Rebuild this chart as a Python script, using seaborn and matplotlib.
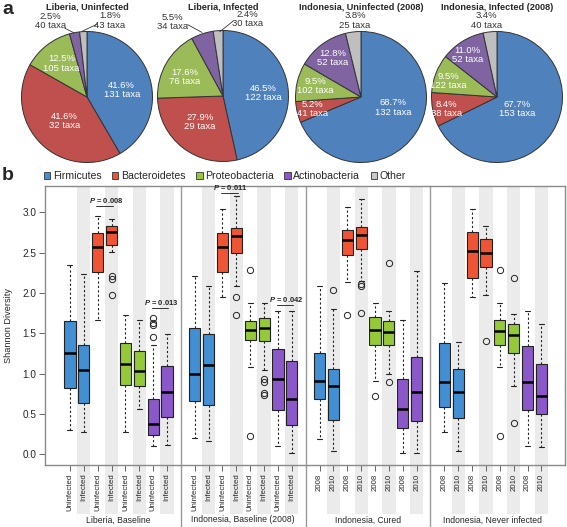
import numpy as np
import pandas as pd
import seaborn as sns
import matplotlib.pyplot as plt
from matplotlib.patches import Patch, Rectangle
from matplotlib.transforms import blended_transform_factory

# ---- panel a: pie data ----
phyla = ['Firmicutes', 'Bacteroidetes', 'Proteobacteria', 'Actinobacteria', 'Other']
pie_titles = ['Liberia, Uninfected', 'Liberia, Infected',
              'Indonesia, Uninfected (2008)', 'Indonesia, Infected (2008)']
liberia_uninf_pct = [41.6, 41.6, 12.5, 2.5, 1.8]
liberia_inf_pct = [46.5, 27.9, 17.6, 5.5, 2.4]
indo_uninf_pct = [68.7, 5.2, 9.5, 12.8, 3.8]
indo_inf_pct = [67.7, 8.4, 9.5, 11.0, 3.4]
liberia_uninf_taxa = [131, 32, 105, 40, 43]
liberia_inf_taxa = [122, 29, 76, 34, 30]
indo_uninf_taxa = [132, 41, 102, 52, 25]
indo_inf_taxa = [153, 38, 122, 52, 40]

# ---- panel b: box stats (whislo, q1, med, q3, whishi), slots F-U, F-I, B-U, B-I, P-U, P-I, A-U, A-I ----
groups = ['Liberia, Baseline', 'Indonesia, Baseline (2008)', 'Indonesia, Cured', 'Indonesia, Never infected']
group_ticks = [['Uninfected', 'Infected'], ['Uninfected', 'Infected'], ['2008', '2010'], ['2008', '2010']]
liberia_box = [(0.30, 0.82, 1.26, 1.65, 2.34), (0.27, 0.64, 1.04, 1.35, 2.24),
               (1.67, 2.26, 2.57, 2.74, 2.95), (2.51, 2.59, 2.76, 2.83, 2.91),
               (0.27, 0.855, 1.115, 1.375, 1.73), (0.56, 0.846, 1.03, 1.28, 1.66),
               (0.10, 0.24, 0.375, 0.69, 1.36), (0.12, 0.46, 0.776, 1.095, 1.495)]
liberia_fliers = [[], [], [], [2.21, 2.17, 1.97], [], [], [1.685, 1.627, 1.60, 1.45], []]
indo_base_box = [(0.20, 0.66, 0.995, 1.57, 2.21), (0.17, 0.61, 1.11, 1.49, 2.09),
                 (1.945, 2.255, 2.57, 2.74, 3.04), (2.09, 2.50, 2.70, 2.81, 3.20),
                 (1.08, 1.415, 1.545, 1.65, 1.87), (1.045, 1.41, 1.57, 1.69, 1.875),
                 (0.10, 0.545, 0.93, 1.31, 1.78), (0.01, 0.36, 0.685, 1.155, 1.78)]
indo_base_fliers = [[], [], [], [1.95, 1.73], [2.28, 0.23], [0.93, 0.89, 0.76, 0.73], [], []]
cured_box = [(0.19, 0.68, 0.91, 1.26, 2.09), (0.04, 0.43, 0.84, 1.06, 1.80),
             (2.13, 2.47, 2.66, 2.78, 3.07), (2.15, 2.55, 2.72, 2.82, 3.17),
             (0.91, 1.355, 1.54, 1.70, 1.875), (0.99, 1.36, 1.52, 1.655, 1.775),
             (0.01, 0.32, 0.565, 0.93, 1.67), (0.01, 0.415, 0.775, 1.21, 2.275)]
cured_fliers = [[], [2.04], [1.73], [2.11, 2.09, 1.755], [0.72], [2.37, 0.895], [], []]
never_box = [(0.28, 0.58, 0.89, 1.38, 2.12), (0.04, 0.45, 0.77, 1.06, 1.39),
             (1.945, 2.18, 2.52, 2.75, 3.04), (1.975, 2.32, 2.49, 2.67, 2.83),
             (1.08, 1.35, 1.53, 1.66, 1.87), (0.84, 1.255, 1.475, 1.61, 1.74),
             (0.10, 0.545, 0.90, 1.34, 1.78), (0.09, 0.50, 0.72, 1.12, 1.62)]
never_fliers = [[], [], [], [1.41], [2.28, 0.23], [2.18, 0.385], [], []]

# p-values: (group, left slot, right slot, text)
pvals = [(0, 2, 3, '0.008'), (0, 6, 7, '0.013'), (1, 2, 3, '0.011'), (1, 6, 7, '0.042')]
pval_heights = [3.08, 1.81, 3.24, 1.85]

# ---- styles ----
sns.set_theme(style='ticks')
plt.rcParams['font.family'] = ['Liberation Sans', 'DejaVu Sans']
plt.rcParams['mathtext.fontset'] = 'custom'
plt.rcParams['mathtext.it'] = 'Liberation Sans:italic:bold'

pie_colors = ['#4F81BD', '#C0504D', '#9BBB59', '#8064A2', '#BFBFBF']
box_colors = ['#4290D3', '#EF5535', '#96C93A', '#8A58C8']
legend_colors = box_colors + ['#C8C8C8']

W, H = 567, 527
fig = plt.figure(figsize=(W / 100, H / 100), dpi=100)

# pie layout (pixels) and label offsets in radius units
pie_centers = [(87, 97), (223, 96), (361, 97), (497, 97)]
R = 65.5
label_pos = [
    [(0.53, 0.11), (-0.34, -0.37), (-0.39, 0.51), (-0.56, 1.16), (0.35, 1.17)],
    [(0.62, 0.05), (-0.35, -0.40), (-0.58, 0.29), (-0.77, 1.13), (0.37, 1.18)],
    [(0.49, -0.16), (-0.74, -0.18), (-0.70, 0.17), (-0.43, 0.60), (-0.09, 1.17)],
    [(0.31, -0.18), (-0.77, -0.18), (-0.75, 0.24), (-0.45, 0.64), (-0.16, 1.17)],
]
leaders = [
    [((-0.34, 1.05), (-0.20, 0.98)), ((-0.08, 1.00), (0.15, 1.11))],
    [((-0.54, 1.09), (-0.32, 0.97)), ((-0.05, 0.98), (0.15, 1.14))],
    [], [],
]
pcts = [liberia_uninf_pct, liberia_inf_pct, indo_uninf_pct, indo_inf_pct]
taxa = [liberia_uninf_taxa, liberia_inf_taxa, indo_uninf_taxa, indo_inf_taxa]

for k, (cx, cy) in enumerate(pie_centers):
    axp = fig.add_axes([(cx - R) / W, (H - cy - R) / H, 2 * R / W, 2 * R / H])
    axp.pie(pcts[k], colors=pie_colors, startangle=90, counterclock=False, radius=1,
            wedgeprops=dict(edgecolor='#333333', linewidth=0.7))
    axp.set_xlim(-1, 1)
    axp.set_ylim(-1, 1)
    axp.set_axis_off()
    for j, (dx, dy) in enumerate(label_pos[k]):
        outside = dy > 1.0
        axp.text(dx, dy, f'{pcts[k][j]:.1f}%\n{taxa[k][j]} taxa', ha='center', va='center',
                 fontsize=6.8, linespacing=1.05, color='#333333' if outside else 'white')
    for (x1, y1), (x2, y2) in leaders[k]:
        axp.plot([x1, x2], [y1, y2], color='#333333', lw=0.6, clip_on=False)
    fig.text(cx / W, 1 - 7 / H, pie_titles[k], ha='center', va='center',
             fontsize=6.6, fontweight='bold')

fig.text(8 / W, 1 - 10 / H, 'a', ha='center', va='center', fontsize=14, fontweight='bold')
fig.text(8 / W, 1 - 176 / H, 'b', ha='center', va='center', fontsize=14, fontweight='bold')

# ---- panel b ----
ax = fig.add_axes([45 / W, (H - 465) / H, 520 / W, 279 / H])
all_box = [liberia_box, indo_base_box, cured_box, never_box]
all_fliers = [liberia_fliers, indo_base_fliers, cured_fliers, never_fliers]

rows = []
for g in range(4):
    for i in range(8):
        lo, q1, med, q3, hi = all_box[g][i]
        rows.append(dict(group=groups[g], phylum=phyla[i // 2], label=group_ticks[g][i % 2],
                         pos=g * 9 + i, whislo=lo, q1=q1, med=med, q3=q3, whishi=hi,
                         fliers=all_fliers[g][i]))
df = pd.DataFrame(rows)

trans = blended_transform_factory(ax.transData, ax.transAxes)
# shaded stripes behind every second slot
for p in df['pos'][df['pos'] % 9 % 2 == 1]:
    ax.add_patch(Rectangle((p - 0.48, -0.176), 0.96, 1.176, transform=trans,
                           facecolor='#ebebeb', edgecolor='none', zorder=0, clip_on=False))

stats = [dict(whislo=r.whislo, q1=r.q1, med=r.med, q3=r.q3, whishi=r.whishi,
              fliers=np.array(r.fliers)) for r in df.itertuples()]
bp = ax.bxp(stats, positions=df['pos'], widths=0.8, patch_artist=True, manage_ticks=False,
            boxprops=dict(edgecolor='#222222', linewidth=0.8),
            medianprops=dict(color='black', linewidth=1.8),
            whiskerprops=dict(color='#222222', linewidth=0.8, linestyle=(0, (2, 2))),
            capprops=dict(color='#222222', linewidth=0.8), capwidths=0.36,
            flierprops=dict(marker='o', markerfacecolor='none', markeredgecolor='#222222',
                            markersize=4.5, markeredgewidth=0.7))
for box, ph in zip(bp['boxes'], df['phylum']):
    box.set_facecolor(box_colors[phyla.index(ph)])
    box.set_zorder(2)

# group separators
for x in [8, 17, 26]:
    ax.plot([x, x], [1.0, -0.222], transform=trans, color='#9a9a9a', lw=1.0, clip_on=False, zorder=1)
for g in range(4):
    ax.text(g * 9 + 3.5, -0.197, groups[g], transform=trans, ha='center', va='center', fontsize=6.2)

# p-value brackets
for (g, a, b, txt), y in zip(pvals, pval_heights):
    xa, xb = g * 9 + a, g * 9 + b
    ax.plot([xa - 0.1, xb + 0.1], [y, y], color='#333333', lw=0.7)
    ax.text((xa + xb) / 2 + 0.1, y + 0.012, r'$P$' + ' = ' + txt, ha='center', va='bottom',
            fontsize=5.5, fontweight='bold')

ax.set_xlim(-1.8, 35.7)
ax.set_ylim(-0.133, 3.325)
ax.set_xticks(df['pos'])
ax.set_xticklabels(df['label'], rotation=90, fontsize=5.6)
ax.set_yticks(np.arange(0, 3.01, 0.5))
ax.set_yticklabels([f'{v:.1f}' for v in np.arange(0, 3.01, 0.5)], fontsize=7.2)
ax.tick_params(axis='both', direction='out', length=4, width=0.7, color='#666666', pad=2)
ax.set_ylabel('Shannon Diversity', fontsize=6.6)
ax.yaxis.set_label_coords(-0.062, 0.5)
for s in ax.spines.values():
    s.set_color('#8a8a8a')
    s.set_linewidth(1.0)

handles = [Patch(facecolor=c, edgecolor='#333333', linewidth=0.6, label=n)
           for c, n in zip(legend_colors, phyla)]
fig.legend(handles=handles, loc='center left', bbox_to_anchor=(44 / W, 1 - 176 / H), ncol=5,
           frameon=False, fontsize=7.6, handlelength=0.6, handleheight=0.6,
           handletextpad=0.25, columnspacing=1.0, borderaxespad=0, borderpad=0)

fig.savefig('out.png', dpi=100)
